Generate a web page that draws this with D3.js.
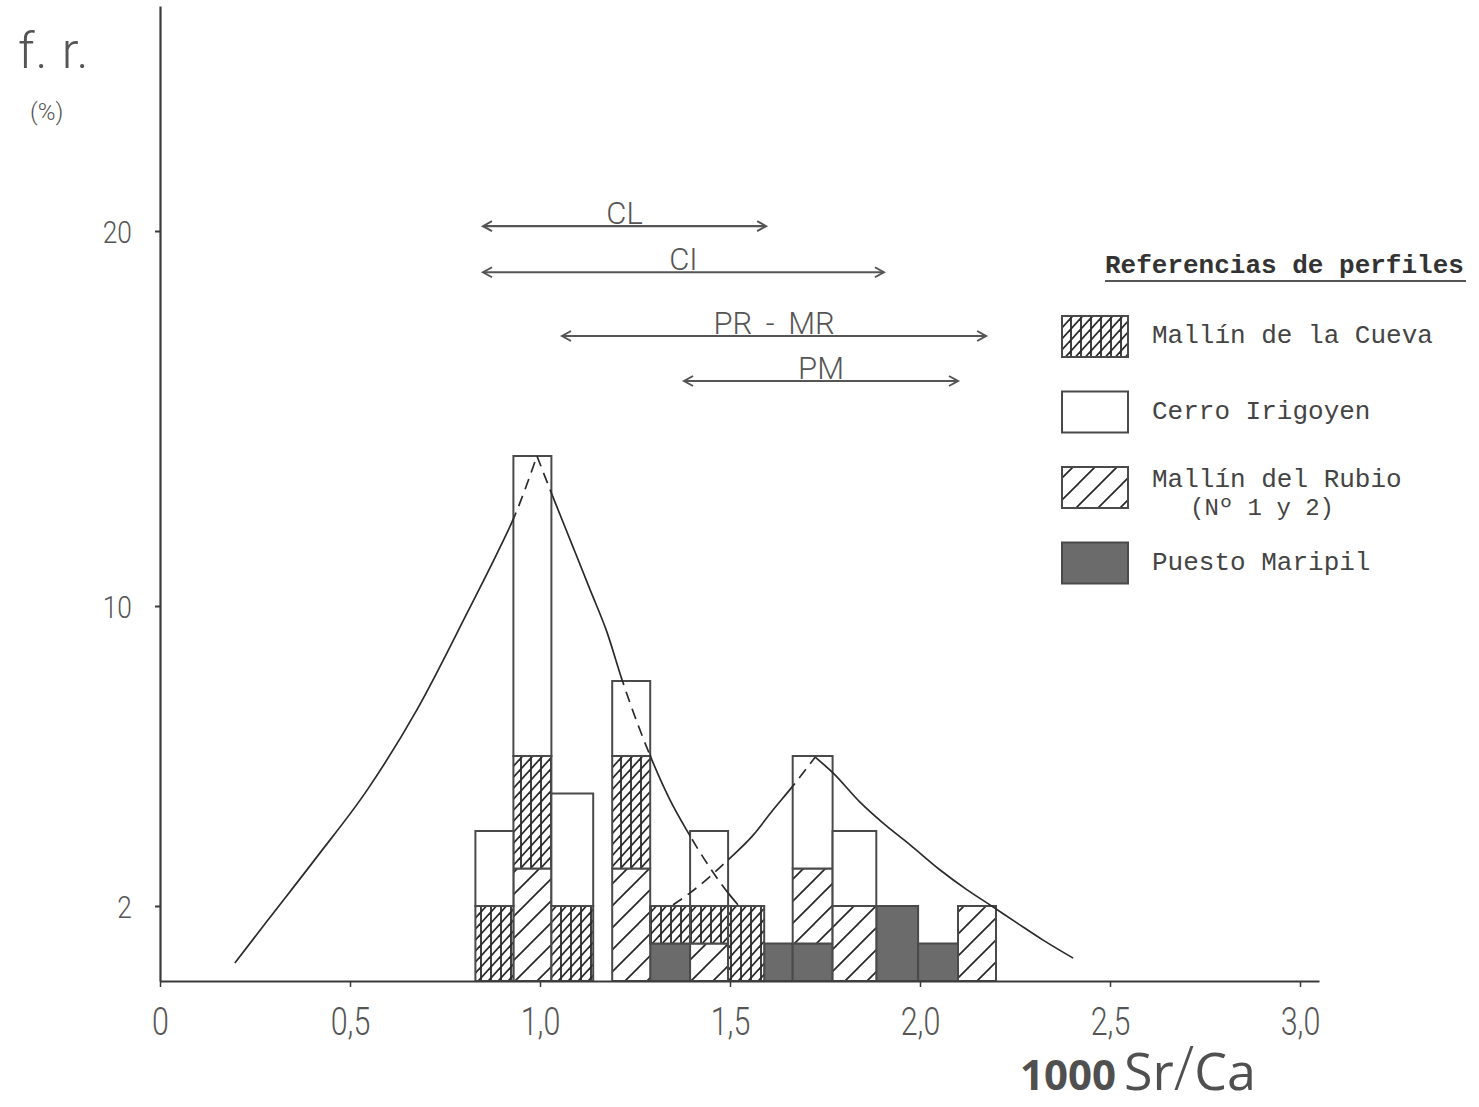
<!DOCTYPE html>
<html>
<head>
<meta charset="utf-8">
<script src="https://cdn.jsdelivr.net/npm/d3@7"></script>
<style>
  html, body { margin: 0; padding: 0; background: #fff; }
  svg { display: block; }
</style>
</head>
<body>
<svg id="chart" width="1479" height="1107"></svg>
<script>
// Class limits of 1000 Sr/Ca
const binStart = [0.83, 0.93, 1.03, 1.19, 1.29, 1.395, 1.495, 1.59, 1.665, 1.77, 1.885, 1.995, 2.10];
const binEnd   = [0.93, 1.03, 1.14, 1.29, 1.395, 1.495, 1.59, 1.665, 1.77, 1.885, 1.995, 2.10, 2.20];

// Relative frequency (%) contributed by each profile in every class
const puestoMaripil = [0, 0, 0, 0, 1, 0, 0, 1, 1, 0, 2, 1, 0];
const mallinRubio   = [0, 3, 0, 3, 0, 1, 0, 0, 2, 2, 0, 0, 2];
const mallinCueva   = [2, 3, 2, 3, 1, 1, 2, 0, 0, 0, 0, 0, 0];
const cerroIrigoyen = [2, 8, 3, 2, 0, 2, 0, 0, 3, 2, 0, 0, 0];

// Stacking order, bottom to top
const seriesKeys = ["PM", "MR", "MC", "CI"];

// Legend entries
const legendKeys = ["MC", "CI", "MR", "PM"];
const legendLines = [["Mallín de la Cueva"], ["Cerro Irigoyen"], ["Mallín del Rubio", "(Nº 1 y 2)"], ["Puesto Maripil"]];
const legendTitle = "Referencias de perfiles";

// Sr/Ca range of each locality
const rangeLabels = ["CL", "CI", "PR - MR", "PM"];
const rangeMin    = [0.85, 0.85, 1.058, 1.379];
const rangeMax    = [1.595, 1.905, 2.174, 2.10];
const rangeLevel  = [20.13, 18.9, 17.2, 16.0];

// Axis ticks
const xTickValues = [0, 0.5, 1, 1.5, 2, 2.5, 3];
const xTickLabels = ["0", "0,5", "1,0", "1,5", "2,0", "2,5", "3,0"];
const yTickValues = [2, 10, 20];
const yTickLabels = ["2", "10", "20"];

// Frequency envelopes of the two populations, each as a rising and a falling limb
const curveARiseX = [0.197, 0.282, 0.413, 0.545, 0.676, 0.808, 0.895, 0.932, 0.992];
const curveARiseY = [0.48, 1.60, 3.31, 5.09, 7.23, 9.81, 11.57, 12.37, 14.0];
const curveAFallX = [0.992, 1.034, 1.087, 1.132, 1.176, 1.216, 1.289, 1.342, 1.389, 1.495, 1.521];
const curveAFallY = [14.0, 12.91, 11.57, 10.43, 9.31, 8.03, 6.03, 4.83, 3.97, 2.35, 2.03];
const curveADashed = [[0.932, 1.034], [1.216, 1.289], [1.395, 1.495]];

const curveBRiseX = [1.35, 1.395, 1.495, 1.561, 1.613, 1.663, 1.724];
const curveBRiseY = [2.03, 2.35, 3.23, 3.89, 4.56, 5.17, 5.97];
const curveBFallX = [1.724, 1.771, 1.842, 1.903, 1.974, 2.053, 2.124, 2.184, 2.255, 2.324, 2.403];
const curveBFallY = [5.97, 5.55, 4.77, 4.21, 3.63, 2.96, 2.43, 2.03, 1.55, 1.09, 0.61];
const curveBDashed = [[1.35, 1.495], [1.665, 1.724]];

const svg = d3.select("#chart");

const x = d3.scaleLinear().domain([0, 3.05]).range([160, 1319]);
const y = d3.scaleLinear().domain([0, 26]).range([981, 6]);

const INK = "#3a3a3a";
const GREY_TEXT = "#555";
const THIN_FONT = "Roboto, 'Open Sans', 'DejaVu Sans', sans-serif";
const MONO_FONT = "'Liberation Mono', 'DejaVu Sans Mono', monospace";

// ---------- fill patterns ----------
const defs = svg.append("defs");

// cross-hatch: verticals plus rising diagonals
const cross = defs.append("pattern")
  .attr("id", "cross").attr("patternUnits", "userSpaceOnUse")
  .attr("width", 10).attr("height", 11);
cross.append("rect").attr("width", 10).attr("height", 11).attr("fill", "#fff");
cross.append("line").attr("x1", 1).attr("y1", 0).attr("x2", 1).attr("y2", 11)
  .attr("stroke", "#2a2a2a").attr("stroke-width", 1.8);
[[-10, 22, 20, -11], [-10, 11, 10, -11], [0, 22, 20, 0]].forEach(([a, b, c, d]) => {
  cross.append("line").attr("x1", a).attr("y1", b).attr("x2", c).attr("y2", d)
    .attr("stroke", "#2a2a2a").attr("stroke-width", 1.8);
});

// single rising hatch
const hatch = defs.append("pattern")
  .attr("id", "hatch").attr("patternUnits", "userSpaceOnUse")
  .attr("width", 22).attr("height", 22);
hatch.append("rect").attr("width", 22).attr("height", 22).attr("fill", "#fff");
[[0, 22, 22, 0], [-11, 11, 11, -11], [11, 33, 33, 11]].forEach(([a, b, c, d]) => {
  hatch.append("line").attr("x1", a).attr("y1", b).attr("x2", c).attr("y2", d)
    .attr("stroke", "#262626").attr("stroke-width", 1.7);
});

const fills = { PM: "#6b6b6b", MR: "url(#hatch)", MC: "url(#cross)", CI: "#fff" };

// ---------- stacked histogram ----------
const rows = binStart.map((s, i) => ({
  x0: s, x1: binEnd[i],
  PM: puestoMaripil[i], MR: mallinRubio[i], MC: mallinCueva[i], CI: cerroIrigoyen[i]
}));
const stacked = d3.stack().keys(seriesKeys)(rows);

const barG = svg.append("g").attr("class", "bars");
stacked.forEach(layer => {
  barG.selectAll(null)
    .data(layer.filter(d => d[1] - d[0] > 0))
    .join("rect")
    .attr("x", d => x(d.data.x0))
    .attr("width", d => x(d.data.x1) - x(d.data.x0))
    .attr("y", d => y(d[1]))
    .attr("height", d => y(d[0]) - y(d[1]))
    .attr("fill", fills[layer.key])
    .attr("stroke", "#4a4a4a")
    .attr("stroke-width", 2);
});

// ---------- axes ----------
const xAxis = d3.axisBottom(x)
  .tickValues(xTickValues)
  .tickFormat((d, i) => xTickLabels[i])
  .tickSize(6).tickSizeOuter(0);
const gx = svg.append("g").attr("transform", `translate(0,${y(0)})`).call(xAxis);
gx.select(".domain").attr("stroke", INK).attr("stroke-width", 2.2);
gx.selectAll(".tick line").attr("stroke", INK).attr("stroke-width", 1.5);
gx.selectAll(".tick text")
  .attr("y", 27).attr("dy", "0.71em")
  .attr("fill", GREY_TEXT)
  .style("font-family", THIN_FONT).style("font-weight", 300).style("font-size", "38px")
  .attr("transform", "scale(0.8,1)");

const yAxis = d3.axisLeft(y)
  .tickValues(yTickValues)
  .tickFormat((d, i) => yTickLabels[i])
  .tickSize(5).tickSizeOuter(0);
const gy = svg.append("g").attr("transform", `translate(${x(0)},0)`).call(yAxis);
gy.select(".domain").attr("stroke", INK).attr("stroke-width", 2.2);
gy.selectAll(".tick line").attr("stroke", INK).attr("stroke-width", 2);
gy.selectAll(".tick text")
  .attr("x", -33).attr("dy", "0.36em")
  .attr("fill", GREY_TEXT)
  .style("font-family", THIN_FONT).style("font-weight", 300).style("font-size", "31px")
  .attr("transform", "scale(0.85,1)");

// ---------- frequency envelopes ----------
function complement(intervals, lo, hi) {
  const out = [];
  let cur = lo;
  intervals.forEach(([a, b]) => { if (a > cur) out.push([cur, a]); cur = Math.max(cur, b); });
  if (cur < hi) out.push([cur, hi]);
  return out;
}

const line = d3.line().x(d => x(d[0])).y(d => y(d[1])).curve(d3.curveMonotoneX);

function drawEnvelope(id, limbs, dashed) {
  const solid = complement(dashed, 0, 3.05);
  [["s", solid], ["d", dashed]].forEach(([tag, intervals]) => {
    const cp = defs.append("clipPath").attr("id", `${id}-${tag}`);
    intervals.forEach(([a, b]) => {
      cp.append("rect").attr("x", x(a)).attr("width", x(b) - x(a))
        .attr("y", 0).attr("height", 1107);
    });
  });
  limbs.forEach(([xs, ys]) => {
    const pts = xs.map((v, i) => [v, ys[i]]);
    svg.append("path").datum(pts)
      .attr("d", line).attr("fill", "none")
      .attr("stroke", "#2b2b2b").attr("stroke-width", 1.7)
      .attr("clip-path", `url(#${id}-s)`);
    svg.append("path").datum(pts)
      .attr("d", line).attr("fill", "none")
      .attr("stroke", "#2b2b2b").attr("stroke-width", 1.7)
      .attr("stroke-dasharray", "11,7")
      .attr("clip-path", `url(#${id}-d)`);
  });
}
drawEnvelope("envA", [[curveARiseX, curveARiseY], [curveAFallX, curveAFallY]], curveADashed);
drawEnvelope("envB", [[curveBRiseX, curveBRiseY], [curveBFallX, curveBFallY]], curveBDashed);

// ---------- range arrows ----------
const rangeG = svg.append("g").attr("class", "ranges");
rangeLabels.forEach((lab, i) => {
  const x0 = x(rangeMin[i]), x1 = x(rangeMax[i]), yy = y(rangeLevel[i]);
  const g = rangeG.append("g");
  g.append("line").attr("x1", x0).attr("x2", x1).attr("y1", yy).attr("y2", yy)
    .attr("stroke", "#555").attr("stroke-width", 2.2);
  g.append("path")
    .attr("d", `M${x0 + 9},${yy - 5} L${x0},${yy} L${x0 + 9},${yy + 5}`)
    .attr("fill", "none").attr("stroke", "#555").attr("stroke-width", 2);
  g.append("path")
    .attr("d", `M${x1 - 9},${yy - 5} L${x1},${yy} L${x1 - 9},${yy + 5}`)
    .attr("fill", "none").attr("stroke", "#555").attr("stroke-width", 2);
  g.append("text")
    .attr("x", (x0 + x1) / 2).attr("y", yy - 2)
    .attr("text-anchor", "middle")
    .attr("fill", GREY_TEXT)
    .style("font-family", THIN_FONT).style("font-weight", 300).style("font-size", "31px")
    .style("word-spacing", "6px")
    .text(lab);
});

// ---------- axis titles ----------
svg.append("text").attr("x", 18).attr("y", 68)
  .attr("fill", GREY_TEXT)
  .style("font-family", THIN_FONT).style("font-weight", 300).style("font-size", "50px")
  .style("letter-spacing", "1px")
  .text("f. r.");
svg.append("text").attr("x", 30).attr("y", 120)
  .attr("fill", GREY_TEXT)
  .style("font-family", THIN_FONT).style("font-weight", 300).style("font-size", "24px")
  .text("(%)");

const xt = svg.append("text").attr("x", 1020).attr("y", 1090)
  .attr("fill", "#505050").style("font-family", "'Open Sans', 'DejaVu Sans', sans-serif");
xt.append("tspan").style("font-weight", 700).style("font-size", "42px").text("1000");
xt.append("tspan").attr("dx", 8).style("font-weight", 400).style("font-size", "52px").text("Sr");
xt.append("tspan").style("font-weight", 300).style("font-size", "60px").text("/");
xt.append("tspan").style("font-weight", 400).style("font-size", "52px").text("Ca");

// ---------- legend ----------
const lg = svg.append("g").attr("class", "legend");
lg.append("text").attr("x", 1105).attr("y", 273)
  .attr("fill", "#333")
  .style("font-family", MONO_FONT).style("font-weight", 700).style("font-size", "26px")
  .text(legendTitle);
lg.append("line").attr("x1", 1105).attr("x2", 1466).attr("y1", 281).attr("y2", 281)
  .attr("stroke", "#555").attr("stroke-width", 2);

legendKeys.forEach((k, i) => {
  const top = 316 + i * 75.5;
  lg.append("rect").attr("x", 1062).attr("y", top).attr("width", 66).attr("height", 41)
    .attr("fill", fills[k]).attr("stroke", "#4a4a4a").attr("stroke-width", 2);
  const lines = legendLines[i];
  if (lines.length === 1) {
    lg.append("text").attr("x", 1152).attr("y", top + 27)
      .attr("fill", "#444")
      .style("font-family", MONO_FONT).style("font-size", "26px")
      .text(lines[0]);
  } else {
    lg.append("text").attr("x", 1152).attr("y", top + 20)
      .attr("fill", "#444")
      .style("font-family", MONO_FONT).style("font-size", "26px")
      .text(lines[0]);
    lg.append("text").attr("x", 1190).attr("y", top + 48)
      .attr("fill", "#444")
      .style("font-family", MONO_FONT).style("font-size", "24px")
      .text(lines[1]);
  }
});
</script>
</body>
</html>
